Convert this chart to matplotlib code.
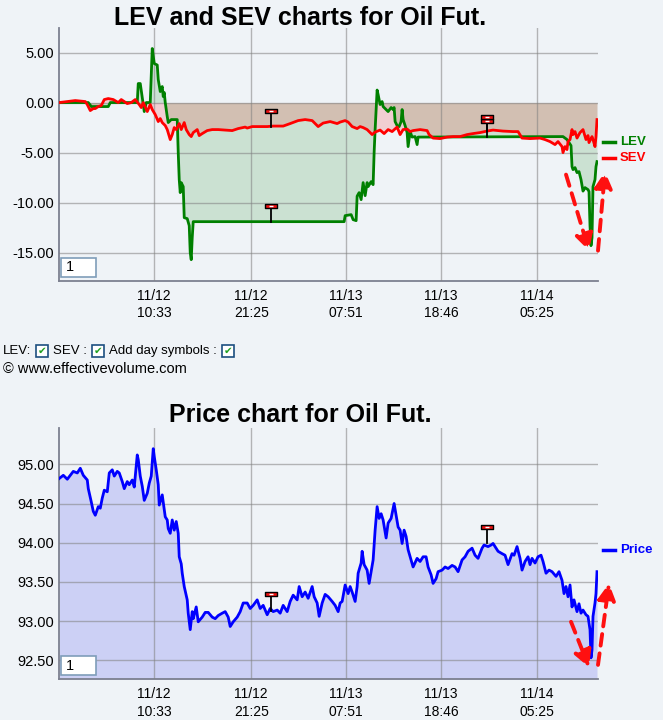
import matplotlib
matplotlib.use("Agg")
import matplotlib.pyplot as plt
from matplotlib.patches import Rectangle
from matplotlib.lines import Line2D
from matplotlib.path import Path
from matplotlib.ticker import FormatStrFormatter

plt.rcParams['font.family'] = ['Liberation Sans', 'DejaVu Sans']
plt.rcParams['axes.unicode_minus'] = False

# x is the bar index of the intraday series (0 .. 538)
lev_x = [0, 29, 32, 49, 51, 78, 79, 81, 85, 87,
         91, 93, 95, 98, 99, 101, 103, 104, 105, 106,
         108, 109, 112, 118, 119, 120, 121, 122, 124, 125,
         128, 130, 131, 132, 133, 134, 285, 286, 292, 294,
         297, 298, 300, 302, 304, 306, 308, 309, 312, 314,
         315, 316, 318, 319, 321, 323, 324, 327, 329, 332,
         334, 335, 336, 338, 340, 342, 343, 344, 346, 348,
         349, 351, 353, 356, 358, 359, 504, 508, 510, 512,
         513, 514, 516, 518, 520, 522, 524, 526, 529, 530,
         531, 532, 533, 534, 536, 537, 538]
lev_y = [0, 0, -0.4, -0.4, 0, 0, 1.9, 1.9, -0.9, 0,
         0, 5.4, 3.9, 3.75, 2.3, 1.1, 1.6, 0.6, 1.0, 0,
         -1.4, -2.0, -1.7, -1.7, -5.0, -7.7, -9.0, -8.0, -8.4, -11.5,
         -11.6, -12.3, -15.0, -15.7, -13.5, -11.9, -11.9, -11.3, -11.2, -11.7,
         -11.8, -9.35, -9.0, -9.7, -8.0, -9.3, -8.0, -8.4, -7.9, -8.2,
         -5.0, -2.7, 1.25, 0.8, -0.2, 0.1, -0.4, -0.7, -0.9, -0.5,
         -0.7, -0.5, -1.9, -2.3, -2.4, -1.9, -0.7, -1.7, -2.3, -3.0,
         -4.4, -2.9, -3.45, -3.4, -4.2, -3.45, -3.4, -3.7, -4.0, -4.3,
         -6.4, -6.7, -6.5, -7.0, -6.9, -7.7, -8.85, -8.5, -8.7, -8.9,
         -12.3, -14.3, -13.5, -8.4, -7.7, -6.4, -5.9]

sev_x = [0, 16, 26, 28, 31, 34, 36, 39, 42, 45,
         49, 54, 59, 62, 68, 72, 76, 80, 82, 84,
         88, 91, 93, 96, 99, 101, 103, 106, 108, 111,
         113, 115, 117, 120, 122, 125, 127, 130, 132, 134,
         138, 140, 143, 148, 153, 159, 166, 173, 179, 186,
         188, 193, 198, 208, 214, 224, 231, 239, 246, 253,
         259, 264, 271, 278, 281, 286, 289, 293, 298, 301,
         304, 308, 313, 316, 321, 325, 329, 333, 338, 341,
         344, 348, 351, 354, 361, 368, 370, 374, 381, 388,
         394, 401, 408, 414, 421, 428, 434, 444, 454, 459,
         463, 471, 481, 486, 491, 496, 499, 503, 504, 506,
         508, 509, 511, 513, 514, 516, 518, 521, 524, 527,
         529, 530, 533, 534, 536, 537, 538]
sev_y = [0, 0.2, 0.1, -0.2, -0.8, -0.6, -0.6, -0.4, -0.3, 0.3,
         0.4, 0.3, 0.0, 0.3, -0.1, 0.0, 0.3, -0.2, -0.5, 0.0,
         -0.9, -0.2, -0.7, -1.2, -1.9, -1.6, -2.0, -2.3, -2.7, -3.7,
         -3.2, -2.5, -2.7, -2.1, -2.7, -2.0, -2.7, -3.2, -3.4, -3.0,
         -2.7, -3.3, -3.1, -2.8, -2.7, -2.7, -2.75, -2.8, -2.6, -2.45,
         -2.55, -2.4, -2.4, -2.4, -2.35, -2.35, -2.1, -1.8, -1.7, -1.8,
         -2.4, -2.05, -1.9, -2.1, -1.95, -1.8, -1.95, -2.4, -2.6, -2.4,
         -2.5, -2.7, -3.2, -2.95, -2.75, -3.1, -2.7, -2.9, -2.45, -3.2,
         -2.7, -2.65, -2.9, -2.8, -2.7, -2.8, -3.2, -3.55, -3.6, -3.45,
         -3.4, -3.4, -3.2, -3.1, -3.0, -2.85, -2.75, -2.85, -2.9, -2.9,
         -3.55, -3.6, -3.55, -3.7, -3.9, -4.2, -3.9, -4.4, -5.0, -4.4,
         -4.7, -3.9, -3.7, -2.7, -3.2, -2.9, -3.55, -3.0, -2.7, -3.7,
         -3.3, -4.0, -3.4, -3.7, -4.4, -3.4, -1.7]

price_x = [0, 4, 8, 11, 14, 18, 21, 24, 28, 29,
           32, 34, 36, 39, 41, 43, 45, 48, 50, 53,
           55, 58, 60, 63, 65, 68, 70, 73, 75, 78,
           79, 81, 83, 85, 88, 90, 92, 94, 95, 97,
           99, 100, 103, 104, 106, 108, 109, 111, 113, 115,
           117, 119, 120, 122, 123, 125, 128, 129, 131, 133,
           134, 137, 139, 143, 146, 149, 153, 156, 159, 163,
           166, 169, 171, 174, 178, 181, 184, 188, 191, 194,
           198, 201, 204, 208, 211, 214, 218, 221, 224, 228,
           231, 234, 238, 240, 243, 246, 249, 253, 255, 258,
           260, 263, 266, 269, 273, 276, 279, 281, 283, 286,
           289, 291, 293, 296, 298, 299, 302, 303, 305, 308,
           310, 312, 314, 316, 318, 320, 322, 324, 327, 329,
           332, 334, 335, 337, 339, 341, 343, 345, 347, 349,
           352, 354, 358, 361, 364, 367, 369, 372, 374, 377,
           379, 383, 386, 389, 393, 396, 399, 403, 406, 409,
           413, 416, 419, 423, 425, 429, 432, 434, 437, 439,
           443, 446, 449, 453, 455, 458, 461, 463, 466, 469,
           471, 473, 476, 479, 482, 484, 487, 490, 493, 497,
           500, 503, 505, 507, 509, 511, 513, 515, 518, 520,
           522, 524, 527, 529, 531, 532, 533, 534, 536, 537,
           538]
price_y = [94.82, 94.86, 94.81, 94.86, 94.91, 94.89, 94.95, 94.86, 94.80, 94.69,
           94.52, 94.40, 94.35, 94.46, 94.44, 94.57, 94.67, 94.65, 94.89, 94.93,
           94.85, 94.91, 94.89, 94.78, 94.69, 94.78, 94.74, 94.80, 94.71, 95.12,
           95.06, 94.85, 94.72, 94.54, 94.63, 94.76, 94.85, 95.20, 95.10, 94.93,
           94.74, 94.48, 94.61, 94.52, 94.33, 94.29, 94.18, 94.12, 94.29, 94.16,
           94.27, 94.12, 93.82, 93.73, 93.61, 93.44, 93.27, 93.10, 92.89, 93.12,
           93.03, 93.18, 92.99, 93.05, 93.11, 93.11, 93.05, 93.03, 93.07, 93.10,
           93.12, 93.05, 92.93, 92.99, 93.05, 93.12, 93.23, 93.23, 93.16, 93.20,
           93.27, 93.16, 93.20, 93.08, 93.16, 93.12, 93.14, 93.10, 93.20, 93.12,
           93.25, 93.33, 93.27, 93.44, 93.31, 93.37, 93.29, 93.44, 93.31, 93.23,
           93.06, 93.23, 93.34, 93.31, 93.25, 93.20, 93.12, 93.23, 93.25, 93.46,
           93.35, 93.44, 93.37, 93.25, 93.44, 93.61, 93.74, 93.89, 93.72, 93.65,
           93.48, 93.63, 93.78, 94.16, 94.46, 94.31, 94.37, 94.29, 94.06, 94.25,
           94.31, 94.44, 94.50, 94.35, 94.20, 94.16, 93.99, 94.16, 94.08, 93.91,
           93.78, 93.69, 93.80, 93.76, 93.82, 93.82, 93.69, 93.59, 93.48, 93.54,
           93.63, 93.65, 93.69, 93.67, 93.71, 93.69, 93.63, 93.78, 93.82, 93.89,
           93.93, 93.84, 93.80, 93.93, 93.97, 93.95, 93.97, 93.99, 93.93, 93.89,
           93.86, 93.84, 93.72, 93.86, 93.84, 93.95, 93.80, 93.65, 93.76, 93.82,
           93.72, 93.80, 93.74, 93.82, 93.84, 93.76, 93.61, 93.65, 93.63, 93.57,
           93.63, 93.52, 93.35, 93.44, 93.31, 93.46, 93.18, 93.27, 93.12, 93.22,
           93.10, 93.14, 93.08, 93.06, 92.89, 92.53, 92.63, 93.06, 93.23, 93.35,
           93.63]

tick_pos = [95, 192, 287, 382, 478]
tick_labels = ["11/12\n10:33", "11/12\n21:25", "11/13\n07:51", "11/13\n18:46", "11/14\n05:25"]

# day symbols: (bar, line value, flag value)
day_x = [212, 428]
lev_day = [-11.9, -3.4]
lev_flag = [-10.33, -1.8]
sev_day = [-2.4, -2.85]
sev_flag = [-0.86, -1.4]
price_day = [93.13, 94.0]
price_flag = [93.35, 94.2]

BG = '#eff3f7'
W, H = 663, 720


def fx(px):
    return px / W


def fy(py):
    return 1 - py / H


def box(l, t, r, b):
    return [l / W, 1 - b / H, (r - l) / W, (b - t) / H]


def style_axes(ax, yticks):
    ax.set_facecolor(BG)
    for s in ['top', 'right']:
        ax.spines[s].set_visible(False)
    for s in ['left', 'bottom']:
        ax.spines[s].set_color('#7c8090')
        ax.spines[s].set_linewidth(1.3)
    ax.set_xlim(0, 539)
    ax.set_xticks(tick_pos)
    ax.set_xticklabels(tick_labels, fontsize=10, linespacing=1.3)
    ax.set_yticks(yticks)
    ax.yaxis.set_major_formatter(FormatStrFormatter('%.2f'))
    ax.tick_params(axis='y', length=0, pad=4, labelsize=10.5)
    ax.tick_params(axis='x', length=0, pad=6)
    ax.grid(True, color='#808080', alpha=0.55, lw=1)
    ax.set_axisbelow(False)
    # small input box with "1"
    ax.add_patch(Rectangle((0.003, 0.016), 0.065, 0.075, transform=ax.transAxes,
                           facecolor='white', edgecolor='#7f9db9', lw=1.2, zorder=6))
    ax.text(0.012, 0.053, '1', transform=ax.transAxes, fontsize=10.5, va='center', zorder=7)


flag_marker = Path([(-1, -0.36), (1, -0.36), (1, 0.36), (-1, 0.36), (-1, -0.36)],
                   [Path.MOVETO, Path.LINETO, Path.LINETO, Path.LINETO, Path.CLOSEPOLY])


def draw_flag(ax, x, base, top):
    ax.plot([x, x], [base, top], color='black', lw=1.3, zorder=5)
    ax.plot([x], [top], marker=flag_marker, ms=9, mfc='#ee1111', mec='black', mew=1, zorder=6)
    ax.plot([x], [top], marker='_', ms=3, mec='white', mew=1, zorder=7)


def dashed_arrow(ax, start, tip):
    ax.annotate('', xy=tip, xytext=start, annotation_clip=False,
                arrowprops=dict(arrowstyle='-|>,head_length=0.7,head_width=0.38',
                                color='#ff1010', lw=2.8, linestyle=(0, (3, 2)),
                                mutation_scale=14, shrinkA=0, shrinkB=0))


fig = plt.figure(figsize=(6.63, 7.2), dpi=100, facecolor=BG)

# ---- LEV / SEV panel ----
ax1 = fig.add_axes(box(59.3, 28, 598, 280.7))
style_axes(ax1, [-15, -10, -5, 0, 5])
ax1.set_ylim(-17.8, 7.45)
ax1.fill_between(lev_x, 0, lev_y, color='green', alpha=0.15, lw=0, zorder=1)
ax1.fill_between(sev_x, 0, sev_y, color='red', alpha=0.15, lw=0, zorder=1)
ax1.plot(lev_x, lev_y, color='#008000', lw=2, zorder=3)
ax1.plot(sev_x, sev_y, color='#ff0000', lw=2, zorder=4)
for i in range(len(day_x)):
    draw_flag(ax1, day_x[i], lev_day[i], lev_flag[i])
    draw_flag(ax1, day_x[i], sev_day[i], sev_flag[i])
dashed_arrow(ax1, (507, -7.2), (530, -14.8))
dashed_arrow(ax1, (539, -14.8), (546, -6.9))

fig.text(fx(300), fy(18), 'LEV and SEV charts for Oil Fut.', ha='center', va='center',
         fontsize=18, fontweight='bold')
fig.add_artist(Line2D([fx(603), fx(615)], [fy(142), fy(142)], color='#008000', lw=2.5))
fig.text(fx(620), fy(142), 'LEV', color='#008000', fontsize=9.5, fontweight='bold', va='center')
fig.add_artist(Line2D([fx(603), fx(615)], [fy(158), fy(158)], color='#ff0000', lw=2.5))
fig.text(fx(620), fy(158), 'SEV', color='#ff0000', fontsize=9.5, fontweight='bold', va='center')

# ---- checkbox row / copyright ----
row_y = 351
for label, lx, bx in [('LEV:', 3, 36), ('SEV :', 53, 92), ('Add day symbols :', 109, 222)]:
    fig.text(fx(lx), fy(row_y), label, fontsize=9.5, va='center')
    fig.add_artist(Rectangle((fx(bx), fy(row_y + 6)), 12 / W, 12 / H, transform=fig.transFigure,
                             facecolor='white', edgecolor='#1c4f80', lw=1.2))
    fig.text(fx(bx + 6), fy(row_y), '\u2714', color='#22a022', fontsize=7.5,
             ha='center', va='center', family='DejaVu Sans')
fig.text(fx(3), fy(369), '\u00a9 www.effectivevolume.com', fontsize=10.5, va='center')

# ---- Price panel ----
ax2 = fig.add_axes(box(59.3, 428.3, 598, 679))
style_axes(ax2, [92.5, 93.0, 93.5, 94.0, 94.5, 95.0])
ymin = 92.26
ax2.set_ylim(ymin, 95.46)
ax2.fill_between(price_x, ymin, price_y, color='#ccd0f5', lw=0, zorder=1)
ax2.plot(price_x, price_y, color='#0000ff', lw=2, zorder=3)
for i in range(len(day_x)):
    draw_flag(ax2, day_x[i], price_day[i], price_flag[i])
dashed_arrow(ax2, (512, 92.99), (530, 92.41))
dashed_arrow(ax2, (539, 92.44), (550, 93.48))

fig.text(fx(300), fy(415), 'Price chart for Oil Fut.', ha='center', va='center',
         fontsize=18, fontweight='bold')
fig.add_artist(Line2D([fx(603), fx(615)], [fy(550), fy(550)], color='#0000ff', lw=2.5))
fig.text(fx(620), fy(550), 'Price', color='#0000ff', fontsize=9.5, fontweight='bold', va='center')

fig.savefig('out.png', dpi=100, facecolor=BG)
